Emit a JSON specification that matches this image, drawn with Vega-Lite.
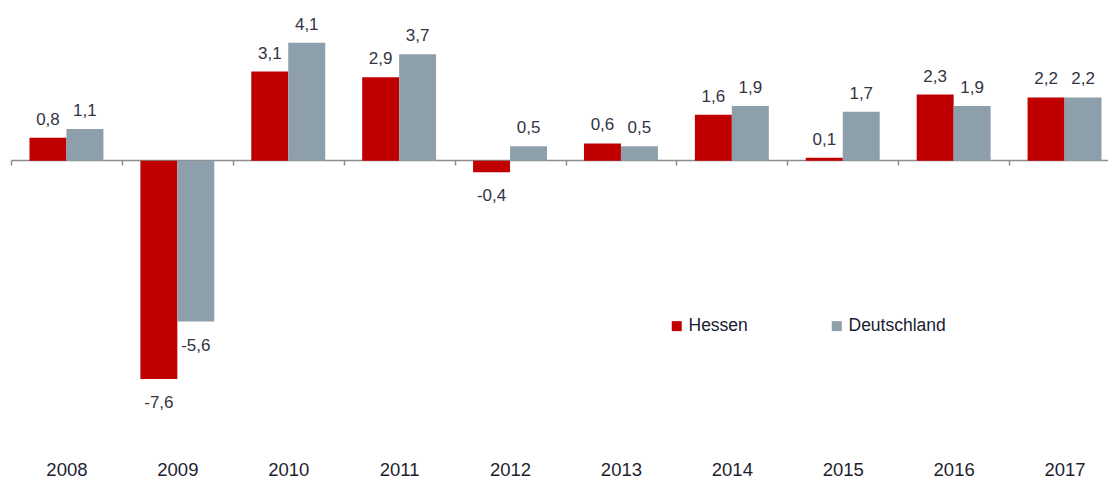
{
  "$schema": "https://vega.github.io/schema/vega-lite/v6.json",
  "autosize": "none",
  "width": 1108,
  "height": 481,
  "padding": 0,
  "background": "white",
  "config": {
    "view": {"stroke": null},
    "font": "Liberation Sans",
    "locale": {"number": {"decimal": ",", "thousands": ".", "grouping": [3], "currency": ["", " €"], "minus": "-"}}
  },
  "data": {
    "values": [
      {"year": "2008", "region": "Hessen", "value": 0.8},
      {"year": "2008", "region": "Deutschland", "value": 1.1},
      {"year": "2009", "region": "Hessen", "value": -7.6},
      {"year": "2009", "region": "Deutschland", "value": -5.6},
      {"year": "2010", "region": "Hessen", "value": 3.1},
      {"year": "2010", "region": "Deutschland", "value": 4.1},
      {"year": "2011", "region": "Hessen", "value": 2.9},
      {"year": "2011", "region": "Deutschland", "value": 3.7},
      {"year": "2012", "region": "Hessen", "value": -0.4},
      {"year": "2012", "region": "Deutschland", "value": 0.5},
      {"year": "2013", "region": "Hessen", "value": 0.6},
      {"year": "2013", "region": "Deutschland", "value": 0.5},
      {"year": "2014", "region": "Hessen", "value": 1.6},
      {"year": "2014", "region": "Deutschland", "value": 1.9},
      {"year": "2015", "region": "Hessen", "value": 0.1},
      {"year": "2015", "region": "Deutschland", "value": 1.7},
      {"year": "2016", "region": "Hessen", "value": 2.3},
      {"year": "2016", "region": "Deutschland", "value": 1.9},
      {"year": "2017", "region": "Hessen", "value": 2.2},
      {"year": "2017", "region": "Deutschland", "value": 2.2}
    ]
  },
  "encoding": {
    "x": {
      "field": "year", "type": "nominal",
      "scale": {"range": [11, 1120], "paddingInner": 0, "paddingOuter": 0},
      "axis": {
        "title": null, "labelAngle": 0, "offset": -321,
        "domainColor": "#8c8c8c", "domainWidth": 1.5,
        "tickColor": "#8c8c8c", "tickSize": 5, "tickWidth": 1.5, "tickBand": "extent",
        "labelPadding": 295, "labelFontSize": 18.5, "labelColor": "#1e1e30"
      }
    },
    "xOffset": {"field": "region", "type": "nominal", "sort": ["Hessen", "Deutschland"], "scale": {"paddingOuter": 0.5, "paddingInner": 0}},
    "y": {
      "field": "value", "type": "quantitative",
      "scale": {"domain": [-10, 5], "range": [448, 17], "nice": false},
      "axis": null
    }
  },
  "layer": [
    {
      "mark": {"type": "bar"},
      "encoding": {
        "color": {
          "field": "region", "type": "nominal",
          "scale": {"domain": ["Hessen", "Deutschland"], "range": ["#c00000", "#8c9faa"]},
          "legend": {
            "title": null, "orient": "none", "legendX": 668, "legendY": 317,
            "direction": "horizontal", "columns": 2, "columnPadding": 80,
            "symbolType": "square", "symbolSize": 100, "symbolStrokeWidth": 0,
            "labelFontSize": 17.5, "labelColor": "#1a1a33", "labelOffset": 3
          }
        }
      }
    },
    {
      "transform": [{"filter": "datum.value >= 0"}],
      "mark": {"type": "text", "dy": -18, "fontSize": 17, "color": "#333344", "baseline": "middle"},
      "encoding": {"text": {"field": "value", "type": "quantitative", "format": ".1f"}}
    },
    {
      "transform": [{"filter": "datum.value < 0"}],
      "mark": {"type": "text", "dy": 24, "fontSize": 17, "color": "#333344", "baseline": "middle"},
      "encoding": {"text": {"field": "value", "type": "quantitative", "format": ".1f"}}
    }
  ]
}
